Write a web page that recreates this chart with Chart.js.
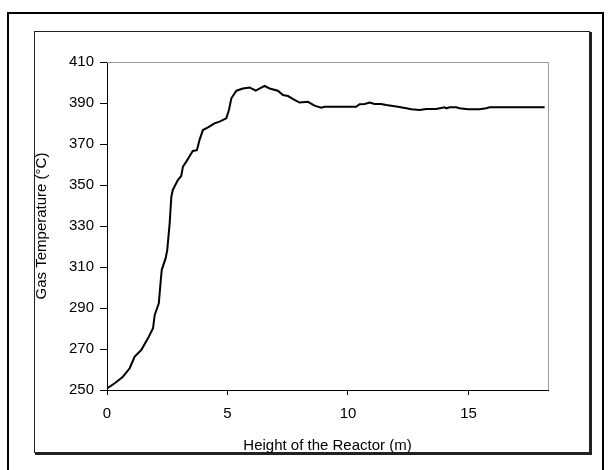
<!DOCTYPE html>
<html>
<head>
<meta charset="utf-8">
<script src="https://cdn.jsdelivr.net/npm/chart.js@4"></script>
<style>
  html, body { margin: 0; padding: 0; background: #fff; }
  #wrap { width: 608px; height: 470px; position: relative; }
</style>
</head>
<body>
<div id="wrap"><canvas id="chart" width="608" height="470"></canvas></div>
<script>
// height of the reactor (m)
const heights = [0, 0.32, 0.66, 0.94, 1.15, 1.42, 1.70, 1.91, 1.98, 2.15, 2.22, 2.27, 2.43, 2.50, 2.60, 2.67, 2.73,
  2.94, 3.08, 3.15, 3.29, 3.45, 3.56, 3.73, 3.84, 3.98, 4.19, 4.46, 4.67, 4.95, 5.06, 5.16, 5.37, 5.64, 5.92,
  6.17, 6.54, 6.75, 7.09, 7.30, 7.51, 7.78, 7.99, 8.34, 8.61, 8.89, 9.03, 10.34, 10.48, 10.69, 10.90, 11.10,
  11.38, 11.59, 12.07, 12.42, 12.63, 12.97, 13.25, 13.66, 14.01, 14.08, 14.22, 14.49, 14.63, 14.98, 15.46,
  15.74, 15.88, 18.16];
// gas temperature (degC)
const temps = [250.8, 253.3, 256.5, 260.6, 266.3, 269.5, 275.2, 280.1, 286.6, 292.3, 302, 308.5, 314.2, 318.3,
  331.3, 344.3, 347.6, 352.4, 354.4, 358.9, 361.4, 364.5, 366.6, 367, 372, 376.8, 378.1, 380.1, 380.9, 382.5,
  386.6, 392.3, 396, 397.1, 397.6, 396, 398.3, 397.1, 396, 393.9, 393.4, 391.5, 390.2, 390.6, 388.7, 387.7,
  388.2, 388.2, 389.4, 389.5, 390.2, 389.5, 389.5, 389, 388.2, 387.4, 386.9, 386.6, 387.1, 387.1, 387.9, 387.4,
  387.9, 387.9, 387.4, 386.9, 386.9, 387.4, 387.9, 387.9];

const xTicks = [0, 5, 10, 15];
const yTicks = [250, 270, 290, 310, 330, 350, 370, 390, 410];
const xMax = 18.3;

const FONT = { family: "'Liberation Sans', Arial, sans-serif", size: 15 };

// white page, outer frame and the chart box with its shadow
const frames = {
  id: 'frames',
  beforeDraw(chart){
    const c = chart.ctx;
    c.save();
    c.fillStyle = '#fff';
    c.fillRect(0, 0, chart.width, chart.height);
    c.strokeStyle = '#000';
    c.lineWidth = 2;
    c.beginPath();
    c.moveTo(8, 470); c.lineTo(8, 13); c.lineTo(603, 13); c.lineTo(603, 470);
    c.stroke();
    c.lineWidth = 1;
    c.strokeStyle = '#222';
    c.strokeRect(34.5, 31.5, 555, 421);
    c.fillStyle = '#222';
    c.fillRect(590, 32, 2, 423);
    c.fillRect(35, 453, 557, 2);
    c.restore();
  },
  afterDraw(chart){
    const a = chart.chartArea, c = chart.ctx;
    c.save();
    c.strokeStyle = '#9a9a9a';
    c.lineWidth = 1;
    c.beginPath();
    c.moveTo(a.left, Math.round(a.top) + 0.5);
    c.lineTo(Math.round(a.right) + 0.5, Math.round(a.top) + 0.5);
    c.lineTo(Math.round(a.right) + 0.5, a.bottom);
    c.stroke();
    c.restore();
  }
};

new Chart(document.getElementById('chart'), {
  type: 'line',
  data: {
    datasets: [{
      data: heights.map((h, i) => ({ x: h, y: temps[i] })),
      borderColor: '#000',
      borderWidth: 2,
      pointRadius: 0,
      tension: 0,
      fill: false
    }]
  },
  options: {
    responsive: false,
    animation: false,
    events: [],
    layout: { padding: { left: 33, right: 60, top: 62, bottom: 15 } },
    plugins: { legend: { display: false }, tooltip: { enabled: false } },
    scales: {
      x: {
        type: 'linear',
        min: 0,
        max: xMax,
        afterBuildTicks: s => { s.ticks = xTicks.map(v => ({ value: v })); },
        afterFit: s => { s.height = 65; },
        grid: { drawOnChartArea: false, drawTicks: true, tickLength: 5, color: '#000' },
        border: { color: '#000', width: 1 },
        ticks: { color: '#000', font: FONT, padding: 10, maxRotation: 0 },
        title: { display: true, text: 'Height of the Reactor (m)', color: '#000', font: FONT, padding: { top: 10, bottom: 0 } }
      },
      y: {
        min: 250,
        max: 410,
        afterBuildTicks: s => { s.ticks = yTicks.map(v => ({ value: v })); },
        afterFit: s => { s.width = 74; },
        grid: { drawOnChartArea: false, drawTicks: true, tickLength: 7, color: '#000' },
        border: { color: '#000', width: 1 },
        ticks: { color: '#000', font: FONT, padding: 6 },
        title: { display: true, text: 'Gas Temperature (°C)', color: '#000', font: FONT, padding: { top: 0, bottom: 0 } }
      }
    }
  },
  plugins: [frames]
});
</script>
</body>
</html>
